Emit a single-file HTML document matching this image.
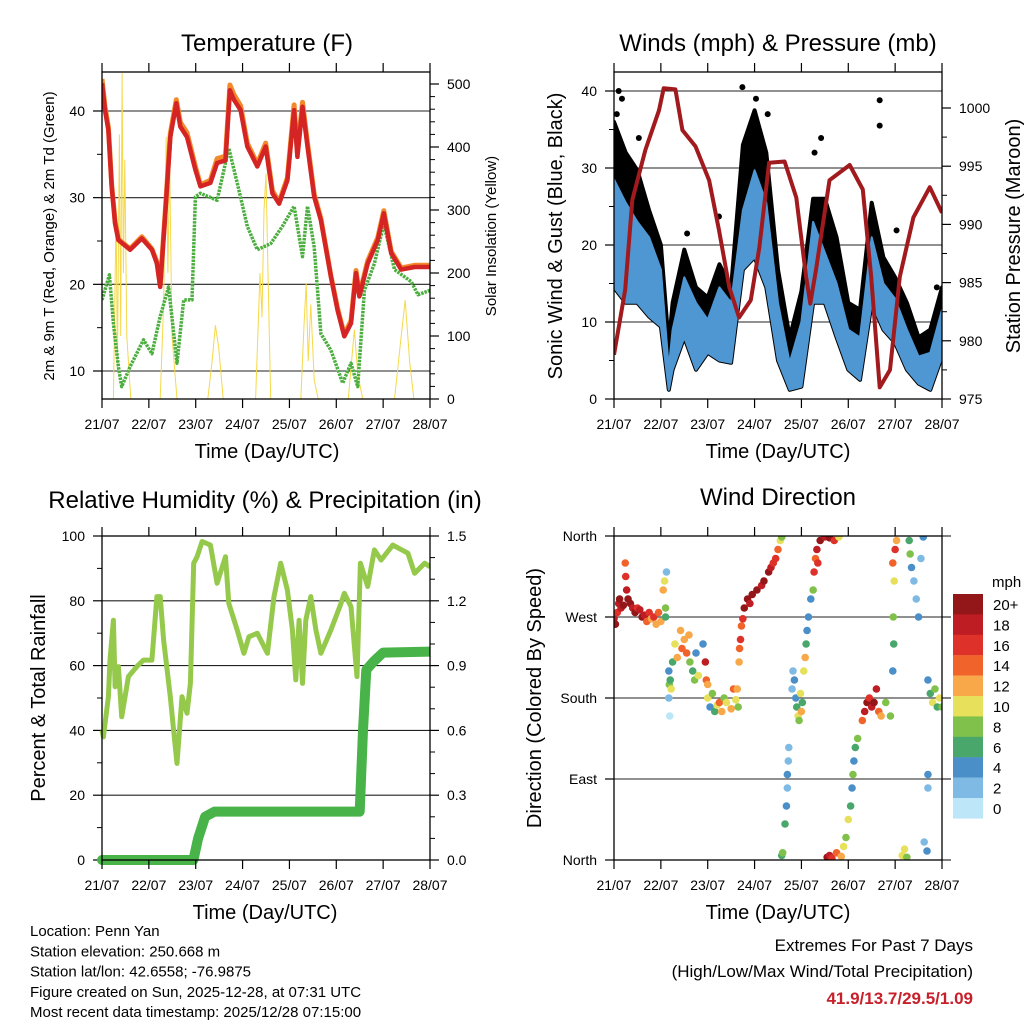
<!DOCTYPE html>
<html><head><meta charset="utf-8"><style>
html,body{margin:0;padding:0;background:#fff;}
svg{display:block;font-family:"Liberation Sans",Arial,sans-serif;}
</style></head><body>
<svg id="chart" width="1024" height="1024" viewBox="0 0 1024 1024"></svg>
<script>
// ---- Temperature panel data ----
const tempT = [0,0.064,0.136,0.207,0.279,0.35,0.6,0.85,1.064,1.171,1.243,1.35,1.457,1.586,1.671,1.814,1.993,2.1,2.314,2.457,2.636,2.729,2.814,2.957,3.1,3.314,3.493,3.636,3.779,3.957,4.1,4.171,4.279,4.386,4.529,4.671,4.886,5.029,5.171,5.314,5.421,5.493,5.671,5.886,6.014,6.171,6.386,6.671,7.0];
const tempRed = [43.2,40.1,37.8,31.3,27,25.1,24,25.3,24,22.4,19.7,28.2,37,40.9,38.2,37,33.2,31.3,31.7,34,34.3,42.4,41.3,40.1,35.9,33.6,35.9,30.5,29.3,32,40.1,34.7,40.5,35.9,30.1,27.4,20.9,17,14,15.5,21.3,18.6,22.4,25.1,28.2,23.6,21.7,22,22];
const tempOrange = [43.7,40.5,38.1,31.5,27.2,25.2,24.1,25.5,24.1,22.6,19.9,28.5,37.4,41.3,38.7,37.5,33.6,31.5,32,34.5,34.8,43,41.9,40.6,36.3,33.9,36.3,30.8,29.5,32.3,40.7,35.2,41,36.3,30.4,27.6,21,17.2,14.2,15.8,21.6,18.8,22.7,25.4,28.5,23.8,21.9,22.2,22.2];
const tdT = [0,0.157,0.243,0.35,0.421,0.6,0.886,1.064,1.243,1.421,1.6,1.743,1.921,1.993,2.1,2.457,2.707,2.886,3.1,3.314,3.6,3.85,4.1,4.279,4.386,4.529,4.671,4.886,5.136,5.314,5.457,5.6,5.814,6.014,6.243,6.6,6.743,7.0];
const tdGreen = [18.2,21.1,15.5,10.5,8.2,10.5,13.6,12,16.3,19.7,10.9,18.2,18.2,30.1,30.5,29.7,35.7,31.7,26.7,24,24.7,26.7,29,23.2,29,24.3,14.3,12.4,8.6,10.9,8.2,19.3,22.4,27,21.7,20.3,18.8,19.3];
const solarT = [0,0.243,0.3,0.329,0.371,0.4,0.429,0.457,0.486,0.529,0.614,1.243,1.314,1.371,1.407,1.443,1.493,1.6,2.257,2.35,2.421,2.493,2.586,3.279,3.371,3.414,3.457,3.5,3.543,3.6,4.243,4.314,4.357,4.4,4.457,4.529,4.614,5.257,5.35,5.386,5.457,5.564,6.243,6.386,6.471,6.564,6.657,7.0];
const solarV = [0,0,300,50,420,100,517,200,380,100,0,0,150,416,200,380,100,0,0,60,117,80,0,0,200,130,300,358,200,0,0,120,184,60,150,30,0,0,80,110,40,0,0,100,157,60,0,0];
// ---- Winds panel data ----
const windT = [0,0.25,0.5,0.75,1.0,1.17,1.25,1.5,1.75,2.0,2.25,2.5,2.75,3.0,3.25,3.5,3.75,4.0,4.25,4.5,4.75,5.0,5.25,5.5,5.75,6.0,6.25,6.5,6.75,7.0];
const gustV = [36,32,29.7,24.5,20,7,12.5,19.4,14.5,13.2,17.5,14.5,33,37.5,32,16.8,8,14,26,26,21,12.5,11.6,25.5,18.4,15.8,12.5,8,9,14.5];
const windV = [28.5,25.5,23,21,16.8,4,9,15.8,12.5,10.3,14.5,12.5,24.5,29.7,25.5,12.5,4.7,10,23,19,15,9,8,21,15,13,9,5.5,6,11.6];
const windLow = [14.5,12.5,12.5,10.7,9.4,1.2,3.8,8,3.8,6,5,4.7,16.8,18.4,14.5,5,1.2,1.6,12.5,12.5,8,3.8,2.5,12.5,9,7.3,3.8,2,1.2,5.5];
const peakT = [0.06,0.1,0.17,0.53,1.56,2.24,2.74,3.03,3.1,3.28,4.28,4.42,5.67,5.67,6.03,6.89];
const peakV = [37,40,39,33.9,21.5,23.7,40.5,39,34,37,32,33.9,38.8,35.5,21.9,14.5];
const presT = [0,0.24,0.39,0.67,0.96,1.06,1.31,1.46,1.74,2.03,2.24,2.46,2.67,2.92,3.1,3.31,3.64,3.89,4.1,4.19,4.31,4.6,5.03,5.31,5.49,5.67,5.89,6.1,6.39,6.74,7.0];
const presV = [978.8,984.4,992.1,996.4,999.8,1001.7,1001.6,998.1,996.7,993.8,989.5,984.6,982,983.5,988,995.3,995.4,992.3,985.5,983.2,986.1,993.8,995.1,993,985.5,976,977.5,985.5,990.6,993.2,991];
// ---- RH panel data ----
const rhT = [0,0.029,0.136,0.171,0.243,0.279,0.35,0.421,0.564,0.743,0.886,1.064,1.171,1.243,1.314,1.457,1.529,1.6,1.707,1.814,1.886,1.957,2.029,2.136,2.314,2.457,2.636,2.707,2.886,3.029,3.136,3.314,3.529,3.671,3.814,3.957,4.064,4.136,4.207,4.279,4.35,4.457,4.564,4.671,4.886,5.1,5.171,5.314,5.443,5.514,5.671,5.814,5.957,6.207,6.529,6.671,6.886,7.0];
const rhV = [40,38,50.4,61.7,74,53.5,59.7,44.2,56.6,59.7,61.7,61.7,81.3,81.3,67.9,50.4,40.1,29.8,50.4,45.3,54.5,91.6,93.6,98.3,97.2,85.4,93.6,79.2,71,63.8,68.9,70,63.8,81.3,91.6,83.3,71,55.6,74,54.5,74,81.3,71,63.8,71,79.2,82.3,78.2,56.6,91.6,84.4,95.7,92.6,97.2,94.7,88.5,91.6,90.5];
const rainT = [0,1.95,2.05,2.2,2.4,5.5,5.57,5.64,5.8,6.0,7.0];
const rainV = [0,0,0.1,0.2,0.224,0.224,0.6,0.88,0.92,0.96,0.965];
// ---- Wind direction data ----
const dirT = [0.0,0.03,0.07,0.1,0.12,0.15,0.2,0.25,0.24,0.27,0.3,0.35,0.4,0.45,0.5,0.55,0.6,0.65,0.7,0.75,0.8,0.85,0.9,0.95,1.0,1.05,1.08,1.1,1.12,1.1,
1.17,1.18,1.2,1.22,1.17,1.19,1.25,1.3,1.35,1.42,1.45,1.5,1.55,1.6,1.62,1.68,1.72,1.75,1.8,1.9,1.95,1.97,2.0,2.0,2.05,2.1,2.15,2.2,2.25,2.3,2.35,2.4,2.5,2.55,2.6,2.65,2.63,
2.67,2.68,2.7,2.72,2.75,2.78,2.85,2.9,2.95,3.05,3.15,3.2,3.3,3.35,3.4,3.45,3.5,3.55,3.58,
3.58,3.6,3.65,3.68,3.7,3.72,3.73,3.7,3.8,3.82,3.85,3.88,3.9,3.93,3.95,3.98,4.0,4.02,4.05,4.08,4.1,4.12,4.15,4.2,4.25,
4.27,4.3,4.33,4.35,4.4,4.5,4.6,4.7,4.8,
4.55,4.6,4.65,4.75,4.85,
4.9,4.95,5.0,5.05,5.08,5.1,5.12,5.15,5.2,
5.3,5.35,5.4,5.45,5.5,5.55,5.6,5.65,5.7,5.8,5.9,
5.95,6.0,6.03,5.98,5.96,5.97,5.95,
6.15,6.2,6.25,
6.3,6.32,6.35,6.4,6.45,6.5,6.55,6.6,6.62,6.68,6.7,6.7,
6.7,6.75,6.8,6.85,6.9,6.95,7.0];
const dirV = [268,262,275,285,290,280,283,315,330,300,290,285,280,275,280,278,270,272,265,275,268,270,262,275,265,300,310,280,320,270,
210,195,200,190,180,160,220,240,225,255,235,245,230,250,220,210,200,230,205,240,220,200,195,180,170,185,165,172,175,165,180,175,168,190,178,170,190,
220,235,245,260,268,280,290,285,295,300,305,310,320,325,330,335,345,355,359,
5,8,40,60,80,110,125,95,190,210,200,180,170,160,155,185,165,175,210,225,240,255,270,290,300,
320,335,345,330,355,359,358,355,359,
3,5,2,8,4,
15,25,45,60,80,95,110,125,135,
155,165,175,180,170,175,190,165,160,175,160,
330,345,355,310,270,240,210,
5,12,3,
355,340,325,310,290,270,335,359,20,10,95,80,
200,185,175,190,170,180,170];
const dirS = [18,20,16,18,20,18,20,16,14,18,20,20,18,20,16,18,20,18,14,16,12,16,12,14,12,12,10,8,2,6,
4,8,6,10,2,0,6,10,12,12,14,12,14,12,8,6,8,4,10,4,18,14,12,10,4,8,6,10,14,12,8,10,12,14,10,8,12,
12,14,16,14,16,20,20,18,20,20,18,20,20,18,16,16,14,10,8,
6,8,6,4,2,2,2,4,2,2,4,4,6,10,8,10,12,6,10,12,6,4,4,4,8,
16,14,18,16,20,18,20,16,10,
20,18,16,14,12,
10,8,10,6,4,8,4,6,8,
14,18,20,16,18,20,18,14,12,8,8,
14,16,12,10,8,6,4,
10,10,8,
6,8,4,2,2,4,2,4,2,4,4,2,
4,6,10,8,6,10,8];
const legendLabels = ['20+','18','16','14','12','10','8','6','4','2','0'];
const legendColors = ['#931619','#be1d24','#de3129','#f0642c','#f8a848','#e6e05a','#80c14c','#4aa76c','#4a8fc8','#7fbae5','#bde6f8'];
const dayLabels = ['21/07','22/07','23/07','24/07','25/07','26/07','27/07','28/07'];
const tempTicks = [10,20,30,40];
const solarTicks = [0,100,200,300,400,500];
const gustTicks = [0,10,20,30,40];
const presTicks = [975,980,985,990,995,1000];
const rhTicks = [0,20,40,60,80,100];
const rainTicks = ['0.0','0.3','0.6','0.9','1.2','1.5'];
const dirTicks = [0,90,180,270,360];
const dirNames = ['North','East','South','West','North'];

const NS='http://www.w3.org/2000/svg';
const svg=document.getElementById('chart');
function mk(tag,attrs,parent){const e=document.createElementNS(NS,tag);for(const k in attrs)e.setAttribute(k,attrs[k]);(parent||svg).appendChild(e);return e;}
function txt(x,y,s,size,anchor,parent,extra){const e=mk('text',Object.assign({x:x,y:y,'font-size':size,'text-anchor':anchor||'middle',fill:'#000'},extra||{}),parent);e.textContent=s;return e;}
function pts(ts,vs,fx,fy){return ts.map((t,i)=>fx(t).toFixed(1)+','+fy(vs[i]).toFixed(1)).join(' ');}
function colorFor(s){let i=Math.min(10,Math.floor(s/2));return legendColors[10-i];}

function frame(g,x0,y0,x1,y1,name){
  const r=mk('rect',{x:x0,y:y0,width:x1-x0,height:y1-y0,fill:'none',stroke:'#000','stroke-width':1.3},g);
  
  
}
function xAxis(g,x0,x1,y0,y1){
  for(let i=0;i<dayLabels.length;i++){
    const x=x0+i*(x1-x0)/7;
    mk('line',{x1:x,y1:y1,x2:x,y2:y1+9,stroke:'#000','stroke-width':1.2},g);
    mk('line',{x1:x,y1:y0,x2:x,y2:y0-9,stroke:'#000','stroke-width':1.2},g);
    const t=txt(x,y1+30,dayLabels[i],14,'middle',g);
    
    
  }
}
function yTicks(g,vals,labels,fy,x,side,grid,x0,x1,name,minorStep){
  const dir=side==='left'?-1:1;
  vals.forEach((v,i)=>{
    const y=fy(v);
    if(grid){const l=mk('line',{x1:x0,y1:y,x2:x1,y2:y,stroke:'#222','stroke-width':1.1},g);}
    mk('line',{x1:x,y1:y,x2:x+dir*9,y2:y,stroke:'#000','stroke-width':1.2},g);
    const t=txt(side==='left'?x-17:x+17,y+5,labels[i],14,side==='left'?'end':'start',g);
    
    
    if(minorStep&&i<vals.length-1){
      for(let k=1;k*minorStep<(vals[i+1]-v)-1e-9;k++){const ym=fy(v+k*minorStep);mk('line',{x1:x,y1:ym,x2:x+dir*5,y2:ym,stroke:'#000'},g);}
    }
  });
}

// ===== Temperature panel =====
(function(){
  const g=mk('g',{});
  
  
  const X0=102,X1=430,Y0=72,Y1=399;
  const fx=t=>X0+t*(X1-X0)/7, fy=v=>371-(v-10)*8.667, fs=s=>399-s*0.63;
  const clip=mk('clipPath',{id:'c1'},g);mk('rect',{x:X0,y:Y0,width:X1-X0,height:Y1-Y0},clip);
  yTicks(g,tempTicks,tempTicks.map(String),fy,X0,'left',true,X0,X1,'y-tick-label',5);
  yTicks(g,solarTicks,solarTicks.map(String),fs,X1,'right',false,0,0,'y2-tick-label',20);
  const dg=mk('g',{'clip-path':'url(#c1)'},g);
  const sol=mk('polyline',{points:pts(solarT,solarV,fx,fs),fill:'none',stroke:'#f5d94a','stroke-width':1},dg);
  
  
  const gr=mk('polyline',{points:pts(tdT,tdGreen,fx,fy),fill:'none',stroke:'#4cae3f','stroke-width':3.5,'stroke-dasharray':'2.5 1','stroke-linejoin':'round'},dg);
  
  
  const or=mk('polyline',{points:pts(tempT,tempOrange,fx,fy),fill:'none',stroke:'#f28a2c','stroke-width':5,'stroke-linejoin':'round'},dg);
  
  
  const rd=mk('polyline',{points:pts(tempT,tempRed,fx,fy),fill:'none',stroke:'#d42424','stroke-width':4.5,'stroke-linejoin':'round'},dg);
  
  
  frame(g,X0,Y0,X1,Y1,'temperature-plot-frame');
  xAxis(g,X0,X1,Y0,Y1);
  let t=txt(267,51,'Temperature (F)',24,'middle',g);
  t=txt(267,458,'Time (Day/UTC)',20,'middle',g);
  t=txt(0,0,'2m & 9m T (Red, Orange) & 2m Td (Green)',15,'middle',g,{transform:'translate(54,236) rotate(-90)'});
  t=txt(0,0,'Solar Insolation (Yellow)',15,'middle',g,{transform:'translate(496,236) rotate(-90)'});
})();

// ===== Winds panel =====
(function(){
  const g=mk('g',{});
  
  
  const X0=614,X1=942,Y0=72,Y1=399;
  const fx=t=>X0+t*(X1-X0)/7, fy=v=>399-v*7.7, fp=p=>399-(p-975)*11.64;
  const clip=mk('clipPath',{id:'c2'},g);mk('rect',{x:X0,y:Y0,width:X1-X0,height:Y1-Y0},clip);
  yTicks(g,gustTicks,gustTicks.map(String),fy,X0,'left',true,X0,X1,'y-tick-label',5);
  yTicks(g,presTicks,presTicks.map(String),fp,X1,'right',false,0,0,'y2-tick-label',2.5);
  const dg=mk('g',{'clip-path':'url(#c2)'},g);
  const band=pts(windT,gustV,fx,fy)+' '+pts(windT.slice().reverse(),windLow.slice().reverse(),fx,fy);
  const bk=mk('polygon',{points:band,fill:'#000',stroke:'#000','stroke-width':4,'stroke-linejoin':'round'},dg);
  
  
  peakT.forEach((tt,i)=>{const c=mk('circle',{cx:fx(tt),cy:fy(peakV[i]),r:3,fill:'#000'},dg);
    
    });
  const blueBand=pts(windT,windV,fx,fy)+' '+pts(windT.slice().reverse(),windLow.slice().reverse(),fx,fy);
  const bl=mk('polygon',{points:blueBand,fill:'#4f97d3',stroke:'#4f97d3','stroke-width':2,'stroke-linejoin':'round'},dg);
  
  
  const pr=mk('polyline',{points:pts(presT,presV,fx,fp),fill:'none',stroke:'#a11a1e','stroke-width':4,'stroke-linejoin':'round'},dg);
  
  
  frame(g,X0,Y0,X1,Y1,'winds-plot-frame');
  xAxis(g,X0,X1,Y0,Y1);
  let t=txt(778,51,'Winds (mph) & Pressure (mb)',24,'middle',g);
  t=txt(778,458,'Time (Day/UTC)',20,'middle',g);
  t=txt(0,0,'Sonic Wind & Gust (Blue, Black)',20,'middle',g,{transform:'translate(562,236) rotate(-90)'});
  t=txt(0,0,'Station Pressure (Maroon)',20,'middle',g,{transform:'translate(1020,236) rotate(-90)'});
})();

// ===== RH panel =====
(function(){
  const g=mk('g',{});
  
  
  const X0=102,X1=430,Y0=536,Y1=860;
  const fx=t=>X0+t*(X1-X0)/7, fy=v=>860-v*3.24, fr=p=>860-p/0.015*3.24;
  const clip=mk('clipPath',{id:'c3'},g);mk('rect',{x:X0-6,y:Y0,width:X1-X0+6,height:Y1-Y0+6},clip);
  yTicks(g,rhTicks,rhTicks.map(String),fy,X0,'left',true,X0,X1,'y-tick-label',10);
  yTicks(g,rainTicks.map(Number),rainTicks,fr,X1,'right',false,0,0,'y2-tick-label',0.1);
  const dg=mk('g',{'clip-path':'url(#c3)'},g);
  const rh=mk('polyline',{points:pts(rhT,rhV,fx,fy),fill:'none',stroke:'#95c94b','stroke-width':5,'stroke-linejoin':'round'},dg);
  
  
  const rn=mk('polyline',{points:pts(rainT,rainV,fx,fr),fill:'none',stroke:'#48b348','stroke-width':10,'stroke-linejoin':'round','stroke-linecap':'round'},dg);
  
  
  frame(g,X0,Y0,X1,Y1,'humidity-plot-frame');
  xAxis(g,X0,X1,Y0,Y1);
  let t=txt(265,508,'Relative Humidity (%) & Precipitation (in)',24,'middle',g);
  t=txt(265,919,'Time (Day/UTC)',20,'middle',g);
  t=txt(0,0,'Percent & Total Rainfall',20,'middle',g,{transform:'translate(45,698) rotate(-90)'});
})();

// ===== Wind direction panel =====
(function(){
  const g=mk('g',{});
  
  
  const X0=614,X1=942,Y0=536,Y1=860;
  const fx=t=>X0+t*(X1-X0)/7, fy=d=>860-d*(324/360);
  const clip=mk('clipPath',{id:'c4'},g);mk('rect',{x:X0,y:Y0,width:X1-X0,height:Y1-Y0},clip);
  yTicks(g,dirTicks,dirNames,fy,X0,'left',true,X0,X1,'y-tick-label',0);
  dirTicks.forEach(v=>mk('line',{x1:X1,y1:fy(v),x2:X1+9,y2:fy(v),stroke:'#000'},g));
  const dg=mk('g',{'clip-path':'url(#c4)'},g);
  dirT.forEach((tt,i)=>{
    const c=mk('circle',{cx:fx(tt),cy:fy(dirV[i]),r:3.8,fill:colorFor(dirS[i])},dg);
    
    
  });
  frame(g,X0,Y0,X1,Y1,'direction-plot-frame');
  xAxis(g,X0,X1,Y0,Y1);
  let t=txt(778,505,'Wind Direction',24,'middle',g);
  t=txt(778,919,'Time (Day/UTC)',20,'middle',g);
  t=txt(0,0,'Direction (Colored By Speed)',20,'middle',g,{transform:'translate(541,698) rotate(-90)'});
  const lg=mk('g',{},g);
  
  
  t=txt(992,587,'mph',15,'start',lg);
  legendLabels.forEach((lab,i)=>{
    const y=594+i*20.4;
    const r=mk('rect',{x:953,y:y,width:30,height:20.6,fill:legendColors[i]},lg);
    
    
    const tl=txt(993,y+16,lab,15,'start',lg);
    
    
  });
})();

// ===== Footer =====
(function(){
  const g=mk('g',{});
  
  
  const lines=['Location: Penn Yan','Station elevation: 250.668 m','Station lat/lon: 42.6558; -76.9875','Figure created on Sun, 2025-12-28, at 07:31 UTC','Most recent data timestamp: 2025/12/28 07:15:00'];
  lines.forEach((s,i)=>{const t=txt(30,936+i*20.3,s,15,'start',g);});
  let t=txt(973,951,'Extremes For Past 7 Days',17,'end',g);
  t=txt(973,977,'(High/Low/Max Wind/Total Precipitation)',17,'end',g);
  t=txt(973,1004,'41.9/13.7/29.5/1.09',17,'end',g,{fill:'#c8202a','font-weight':'bold'});
})();
</script>
</body></html>
